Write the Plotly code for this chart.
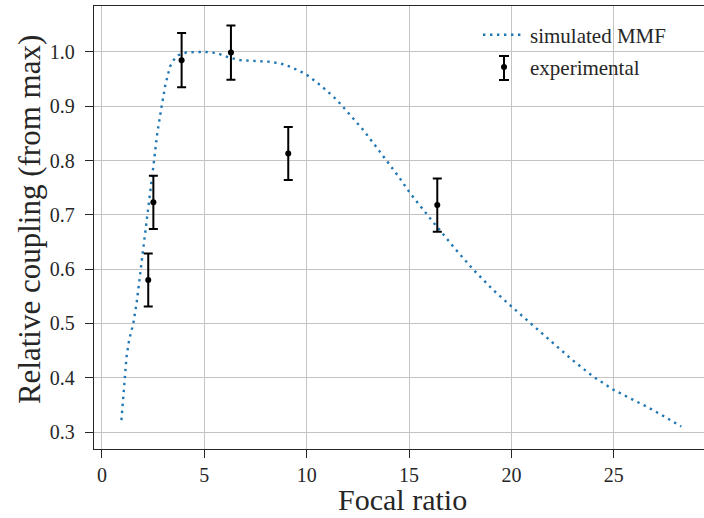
import plotly.graph_objects as go

# simulated MMF curve
sim_x = [0.95, 1.04, 1.12, 1.2, 1.33, 1.53, 1.69, 1.77, 1.86, 2.02, 2.25, 2.43, 2.7, 2.91,
         3.1, 3.32, 3.55, 3.73, 4.1, 4.62, 5.1, 5.6, 6.2, 6.74, 7.5, 8.2, 8.7, 9.18,
         9.6, 10.0, 10.7, 11.47, 12.1, 12.77, 13.3, 13.9, 14.5, 15.05, 15.6, 16.19,
         16.5, 17.24, 18.14, 19.1, 20.1, 21.1, 22.05, 23.0, 24.0, 24.98, 25.8, 26.6,
         27.5, 28.3]
sim_y = [0.322, 0.371, 0.402, 0.439, 0.470, 0.500, 0.537, 0.562, 0.599, 0.645, 0.71, 0.764,
         0.85, 0.899, 0.94, 0.973, 0.988, 0.994, 0.999, 1.000, 1.000, 0.998, 0.990, 0.985,
         0.983, 0.982, 0.979, 0.973, 0.966, 0.958, 0.938, 0.912, 0.885, 0.856, 0.830,
         0.800, 0.770, 0.740, 0.713, 0.686, 0.672, 0.638, 0.599, 0.562, 0.528, 0.495,
         0.464, 0.432, 0.402, 0.378, 0.362, 0.347, 0.328, 0.310]

# experimental points
exp_x = [2.26, 2.51, 3.89, 6.3, 9.1, 16.38]
exp_y = [0.580, 0.723, 0.985, 0.999, 0.813, 0.718]
exp_err = [0.049, 0.049, 0.050, 0.050, 0.049, 0.049]

x_ticks = [0, 5, 10, 15, 20, 25]
y_ticks = [0.3, 0.4, 0.5, 0.6, 0.7, 0.8, 0.9, 1.0]

FONT = "Liberation Serif"
INK = "#262626"

fig = go.Figure()
fig.add_trace(go.Scatter(
    x=sim_x, y=sim_y, mode="lines", name="simulated MMF", legendgroup="sim",
    line=dict(color="#1f77b4", width=2.4, dash="2.4px,4.6px"),
))
fig.add_trace(go.Scatter(
    x=exp_x, y=exp_y, mode="markers", name="experimental", legendgroup="exp",
    marker=dict(color="black", size=6),
    error_y=dict(type="data", array=exp_err, visible=True, color="black",
                 thickness=2, width=4.5),
))

axis_common = dict(
    showgrid=True, gridcolor="#c4c4c4", gridwidth=1.2,
    showline=True, linecolor=INK, linewidth=1.4,
    ticks="outside", ticklen=8, tickwidth=1.4, tickcolor=INK,
    zeroline=False, automargin=False,
    tickfont=dict(family=FONT, size=20, color=INK),
)

fig.update_xaxes(**axis_common, range=[-0.39, 29.41], tickvals=x_ticks, mirror=True)
fig.update_yaxes(**axis_common, range=[0.2687, 1.0847], tickvals=y_ticks,
                 ticktext=[f"{v:.1f}" for v in y_ticks], ticklabelstandoff=6)

fig.add_annotation(text="Focal ratio", xref="paper", yref="paper",
                   x=0.505, y=-0.1129, xanchor="center", yanchor="middle",
                   showarrow=False, font=dict(family=FONT, size=30, color=INK))
fig.add_annotation(text="Relative coupling (from max)", xref="paper", yref="paper",
                   x=-0.1066, y=0.519, xanchor="center", yanchor="middle", textangle=-90,
                   showarrow=False, font=dict(family=FONT, size=31, color=INK))

# error-bar glyph for the "experimental" legend entry
gx, gy0, gy1, cap = 0.6721, 0.8871, 0.8330, 0.0082
for x0, y0, x1, y1 in [(gx, gy0, gx, gy1), (gx - cap, gy0, gx + cap, gy0),
                       (gx - cap, gy1, gx + cap, gy1)]:
    fig.add_shape(type="line", xref="paper", yref="paper", x0=x0, y0=y0, x1=x1, y1=y1,
                  line=dict(color="black", width=2))

fig.update_layout(
    width=704, height=518,
    margin=dict(l=94, r=0, t=6, b=69),
    plot_bgcolor="white", paper_bgcolor="white",
    font=dict(family=FONT, color=INK),
    legend=dict(x=(478 - 94) / 610, y=0.9806, xanchor="left", yanchor="top",
                bgcolor="rgba(0,0,0,0)", borderwidth=0,
                font=dict(family=FONT, size=21, color=INK),
                traceorder="grouped", tracegroupgap=2, itemwidth=42),
    showlegend=True,
)

fig.write_html("out.html", post_script="document.body.style.margin='0';",
               config={"displayModeBar": False})
